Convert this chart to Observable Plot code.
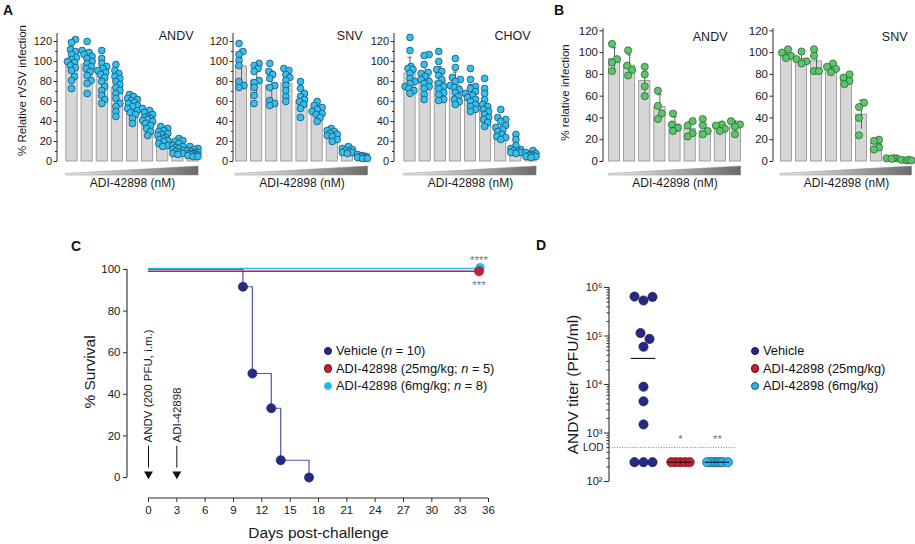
<!DOCTYPE html>
<html>
<head>
<meta charset="utf-8">
<script src="https://cdn.jsdelivr.net/npm/d3@7"></script>
<script src="https://cdn.jsdelivr.net/npm/@observablehq/plot@0.6"></script>
<style>
  html, body { margin: 0; padding: 0; background: #fff; }
  #fig { position: relative; width: 915px; height: 544px; overflow: hidden;
         font-family: "Liberation Sans", Arial, Helvetica, sans-serif; color: #111; }
  #fig svg { position: absolute; left: 0; top: 0; }
  .plabel { position: absolute; font-weight: bold; font-size: 14px; line-height: 14px; }
  .legend { position: absolute; font-size: 12.8px; line-height: 17.5px; white-space: nowrap; }
  .legend .row { display: flex; align-items: center; height: 17.5px; }
  .legend .sw { display: inline-block; width: 8.5px; height: 8.5px; border-radius: 50%;
                margin-right: 4px; box-sizing: border-box; }
</style>
</head>
<body>
<div id="fig"></div>
<script>
// ---------------- DATA ----------------
const doses = [1, 2, 3, 4, 5, 6, 7, 8, 9];   // increasing ADI-42898 concentration (nM)

// Panel A – rVSV, % relative infection
const aAndvMean = [101, 97, 88, 74, 56, 43, 24, 14, 9];
const aAndvPts = [
  [122, 119, 112, 110, 107, 104, 102, 100, 99, 96, 94, 91, 85, 81, 73],
  [120, 111, 109, 107, 105, 103, 100, 98, 95, 93, 90, 86, 81, 78, 68],
  [111, 103, 98, 95, 93, 91, 89, 87, 84, 80, 75, 71, 66, 62, 58],
  [97, 91, 88, 85, 83, 80, 77, 74, 71, 68, 63, 58, 55, 50, 45],
  [67, 65, 63, 62, 61, 59, 58, 56, 55, 53, 51, 49, 47, 43, 38],
  [53, 51, 49, 47, 45, 44, 43, 42, 41, 40, 38, 36, 33, 30, 26],
  [35, 33, 31, 30, 28, 27, 26, 24, 23, 22, 21, 20, 18, 16, 15],
  [23, 21, 20, 18, 16, 15, 14, 13, 12, 11, 10, 9, 8, 8, 7],
  [15, 13, 12, 11, 10, 9, 9, 8, 8, 7, 7, 6, 6, 5, 5]
];
const aSnvMean = [95, 81, 76, 78, 61, 50, 28, 10, 5];
const aSnvPts = [
  [118, 110, 107, 101, 96, 80, 76, 74],
  [98, 96, 93, 90, 81, 79, 74, 66, 58],
  [98, 90, 87, 83, 76, 74, 61, 58, 56],
  [93, 91, 87, 84, 81, 76, 71, 65, 60],
  [80, 73, 68, 65, 62, 60, 57, 53, 44],
  [60, 56, 54, 52, 50, 48, 47, 44, 40],
  [33, 31, 30, 28, 27, 26, 25, 22, 20],
  [15, 13, 12, 11, 10, 9, 9, 8],
  [7, 6, 5, 5, 4, 4, 3, 3]
];
const aChovMean = [88, 84, 80, 76, 65, 55, 33, 14, 7];
const aChovPts = [
  [124, 111, 95, 93, 92, 88, 83, 80, 78, 75, 73, 71, 68],
  [107, 106, 97, 89, 88, 85, 82, 80, 78, 75, 73, 67, 62],
  [110, 100, 92, 90, 86, 82, 78, 75, 73, 69, 67, 62, 61],
  [103, 94, 84, 82, 80, 76, 74, 72, 69, 65, 62, 60, 57],
  [93, 82, 75, 73, 70, 68, 66, 64, 62, 60, 57, 55, 52, 50],
  [83, 73, 68, 62, 57, 55, 52, 50, 47, 44, 42, 39, 35],
  [52, 44, 42, 40, 36, 34, 32, 30, 27, 25, 24, 22],
  [27, 22, 16, 13, 12, 11, 10, 9, 9, 8],
  [11, 9, 8, 7, 6, 6, 5, 5, 4]
];

// Panel B – authentic virus, % relative infection
const bAndvMean = [94, 88, 74, 50, 34, 30, 28, 30, 32];
const bAndvPts = [
  [108, 94, 91, 83], [102, 88, 84, 79], [87, 80, 69, 60], [65, 51, 44, 39],
  [44, 34, 31, 28], [37, 33, 26, 23], [39, 33, 28, 25], [34, 33, 30, 28], [37, 34, 32, 25]
];
const bSnvMean = [98, 94, 92, 86, 75, 43, 16, 3, 1];
const bSnvPts = [
  [103, 100, 97, 95], [101, 94, 92, 90], [103, 97, 83, 83], [90, 87, 85, 82],
  [80, 77, 74, 71], [54, 50, 40, 24], [20, 19, 13, 11], [3, 3, 3, 2.5], [1.5, 1, 1.5, 1]
];
const yTicksPct = [0, 20, 40, 60, 80, 100, 120];
const yMinorPct = [10, 30, 50, 70, 90, 110];

// Panel C – survival
const survDays = [0, 10, 11, 13, 14, 17];
const survVehicle = [100, 91.7, 50, 33.3, 8.3, 0];
const treatedDays = [0, 35];
const treated25 = [100, 100];
const treated6 = [100, 100];
const dayTicks = [0, 3, 6, 9, 12, 15, 18, 21, 24, 27, 30, 33, 36];
const survTicks = [0, 20, 40, 60, 80, 100];
const eventDays = [0, 3];
const eventLabels = ["ANDV (200 PFU, i.m.)", "ADI-42898"];
const legendC = ["Vehicle (<i>n</i> = 10)", "ADI-42898 (25mg/kg; <i>n</i> = 5)", "ADI-42898 (6mg/kg; <i>n</i> = 8)"];
const sigC = ["****", "***"];

// Panel D – ANDV titer (PFU/ml)
const titerVehicle = [650000, 540000, 640000, 115000, 87000, 60000, 9000, 4500, 1500, 250, 250, 250];
const titer25 = [250, 250, 250, 250, 250];
const titer6 = [250, 250, 250, 250, 250, 250, 250, 250];
const lod = 500;
const titerTicks = [1e2, 1e3, 1e4, 1e5, 1e6];
const legendD = ["Vehicle", "ADI-42898 (25mg/kg)", "ADI-42898 (6mg/kg)"];
const sigD = ["", "*", "**"];

// ---------------- STYLE ----------------
const FONT = '"Liberation Sans", Arial, Helvetica, sans-serif';
const W = 915, H = 544;
const NS = "http://www.w3.org/2000/svg";
const navy = "#262a86", red = "#c4202f", cyan = "#2bb6ee";
const fig = document.getElementById("fig");
const baseStyle = { background: "transparent", fontFamily: FONT, fontSize: "11px", color: "#1a1a1a" };

function place(svg) { fig.appendChild(svg); }

// deterministic beeswarm: x offsets (px) for y positions (px)
function swarm(py, minDist, step, maxOff = Infinity) {
  const n = py.length, off = new Array(n).fill(0), placed = [];
  const order = d3.range(n).sort((a, b) => py[a] - py[b]);
  for (const i of order) {
    let best = 0, bestD = -1;
    for (let k = 0; k < 400; k++) {
      const c = k === 0 ? 0 : (k % 2 ? 1 : -1) * Math.ceil(k / 2) * step;
      if (Math.abs(c) > maxOff) break;
      const dmin = placed.length ? d3.min(placed, p => Math.hypot(p[0] - c, p[1] - py[i])) : Infinity;
      if (dmin >= minDist) { best = c; break; }
      if (dmin > bestD) { bestD = dmin; best = c; }
    }
    off[i] = best;
    placed.push([best, py[i]]);
  }
  const mid = (d3.min(off) + d3.max(off)) / 2;
  return off.map(o => o - mid);
}

function lineEl(x1, y1, x2, y2, stroke, sw) {
  const l = document.createElementNS(NS, "line");
  l.setAttribute("x1", x1); l.setAttribute("x2", x2);
  l.setAttribute("y1", y1); l.setAttribute("y2", y2);
  l.setAttribute("stroke", stroke); l.setAttribute("stroke-width", sw);
  return l;
}
const yAxisLine = (v0, v1, sw = 1) => (index, scales, values, dims) =>
  lineEl(dims.marginLeft, scales.y(v0), dims.marginLeft, scales.y(v1), "#2a2a2a", sw);
const xAxisLine = (v0, v1, sw = 1) => (index, scales, values, dims) =>
  lineEl(scales.x(v0), dims.height - dims.marginBottom, scales.x(v1), dims.height - dims.marginBottom, "#2a2a2a", sw);

function gradientDefs(id) {
  return () => {
    const defs = document.createElementNS(NS, "defs");
    const g = document.createElementNS(NS, "linearGradient");
    g.setAttribute("id", id);
    g.setAttribute("x1", "0"); g.setAttribute("x2", "1"); g.setAttribute("y1", "0"); g.setAttribute("y2", "0");
    [["0", "#f0f0f0"], ["1", "#6a6a6a"]].forEach(([o, c]) => {
      const s = document.createElementNS(NS, "stop");
      s.setAttribute("offset", o); s.setAttribute("stop-color", c);
      g.appendChild(s);
    });
    defs.appendChild(g);
    return defs;
  };
}

// ---------------- BAR PANELS (A, B) ----------------
function barPanel(cfg) {
  const step = (cfg.lastPx - cfg.firstPx) / 8;
  const d0 = 1 - (cfg.firstPx - cfg.axisPx) / step;
  const frameRight = cfg.lastPx + step / 2;
  const frameTop = cfg.zeroPx - cfg.yTop * cfg.ppu;
  const frameMid = (frameTop + cfg.zeroPx) / 2;
  const hw = 0.37, cap = 0.14;
  const rows = [], dots = [];
  doses.forEach((d, i) => {
    const v = cfg.pts[i];
    const sd = d3.deviation(v) || 0;
    rows.push({ dose: d, mean: cfg.means[i], lo: cfg.means[i] - sd, hi: cfg.means[i] + sd });
    const off = swarm(v.map(x => x * cfg.ppu), cfg.minDist, 1, cfg.maxOff);
    v.forEach((val, j) => dots.push({ x: d + off[j] / step, y: val }));
  });
  const wedge = [
    { x: doses[0] - hw, y1: -14 / cfg.ppu, y2: -12.5 / cfg.ppu },
    { x: doses[doses.length - 1] + hw, y1: -14 / cfg.ppu, y2: -5 / cfg.ppu }
  ];
  const marks = [
    gradientDefs(cfg.id),
    Plot.areaY(wedge, { x: "x", y1: "y1", y2: "y2", fill: `url(#${cfg.id})`, stroke: "#8a8a8a", strokeWidth: 0.5 }),
    Plot.rectY(rows, { x1: d => d.dose - hw, x2: d => d.dose + hw, y1: 0, y2: "mean",
                       fill: "#d6d6d6", stroke: "#8e8e8e", strokeWidth: 0.8 }),
    Plot.ruleX(rows, { x: "dose", y1: "lo", y2: "hi", stroke: "#555", strokeWidth: 0.9 }),
    Plot.ruleY(rows, { y: "hi", x1: d => d.dose - cap, x2: d => d.dose + cap, stroke: "#555", strokeWidth: 0.9 }),
    Plot.dot(dots, { x: "x", y: "y", r: cfg.r, fill: cfg.fill, stroke: cfg.stroke, strokeWidth: 0.7 }),
    yAxisLine(0, cfg.yTop),
    Plot.axisY({ ticks: yTicksPct, tickSize: 3.5, tickPadding: 2, fontSize: cfg.tickFont, label: null, stroke: "#2a2a2a" }),
    Plot.text([cfg.virus], { text: d => d, frameAnchor: "top-right", textAnchor: "end", lineAnchor: "middle",
                             dx: cfg.virusRight - frameRight, dy: cfg.virusY - frameTop, fontSize: 12.5 }),
    Plot.text(["ADI-42898 (nM)"], { text: d => d, x: d3.mean(doses), frameAnchor: "bottom", lineAnchor: "middle",
                                    dy: 22, fontSize: 12 })
  ];
  if (cfg.minor) marks.push(Plot.axisY({ ticks: yMinorPct, tickSize: 2, tickFormat: () => "", label: null, stroke: "#2a2a2a" }));
  if (cfg.ylabel) marks.push(Plot.text([cfg.ylabel], { text: d => d, frameAnchor: "left", textAnchor: "middle",
      lineAnchor: "middle", rotate: -90, dx: cfg.ylabelX - cfg.axisPx, dy: cfg.ylabelY - frameMid, fontSize: 11.5 }));
  place(Plot.plot({
    width: W, height: H,
    marginLeft: cfg.axisPx, marginRight: W - frameRight, marginTop: frameTop, marginBottom: H - cfg.zeroPx,
    style: baseStyle,
    x: { domain: [d0, 9.5], axis: null },
    y: { domain: [0, cfg.yTop], axis: null },
    marks
  }));
}

const aDot = { fill: "#33c0ec", stroke: "#1b3c5c", r: 3.4, minDist: 5, maxOff: 5 };
const bDot = { fill: "#5cc56a", stroke: "#1f5a2a", r: 3.6, minDist: 6.5, maxOff: 5.5 };
const aGeo = { zeroPx: 161, ppu: 1.0, yTop: 128, virusY: 35, minor: true, tickFont: 11 };
const bGeo = { zeroPx: 161, ppu: 1.089, yTop: 122, virusY: 36, minor: false, tickFont: 11.5 };

barPanel({ ...aGeo, ...aDot, id: "gA1", axisPx: 57, firstPx: 71.5, lastPx: 192.5, means: aAndvMean, pts: aAndvPts,
  virus: "ANDV", virusRight: 193, ylabel: "% Relative rVSV infection", ylabelX: 22, ylabelY: 90 });
barPanel({ ...aGeo, ...aDot, id: "gA2", axisPx: 233, firstPx: 241, lastPx: 362, means: aSnvMean, pts: aSnvPts,
  virus: "SNV", virusRight: 362 });
barPanel({ ...aGeo, ...aDot, id: "gA3", axisPx: 394, firstPx: 409.5, lastPx: 530.5, means: aChovMean, pts: aChovPts,
  virus: "CHOV", virusRight: 530 });
barPanel({ ...bGeo, ...bDot, id: "gB1", axisPx: 603, firstPx: 614, lastPx: 735, means: bAndvMean, pts: bAndvPts,
  virus: "ANDV", virusRight: 727, ylabel: "% relative infection", ylabelX: 565, ylabelY: 92 });
barPanel({ ...bGeo, ...bDot, id: "gB2", axisPx: 773, firstPx: 786, lastPx: 906, means: bSnvMean, pts: bSnvPts,
  virus: "SNV", virusRight: 907 });

// ---------------- PANEL C ----------------
{
  const veh = survDays.map((d, i) => ({ day: d, s: survVehicle[i] }));
  const t25 = treatedDays.map((d, i) => ({ day: d, s: treated25[i] }));
  const t6 = treatedDays.map((d, i) => ({ day: d, s: treated6[i] }));
  const events = eventDays.map((d, i) => ({ day: d, label: eventLabels[i] }));
  const lastDay = d3.max(treatedDays);
  place(Plot.plot({
    width: W, height: H,
    marginLeft: 127, marginRight: W - 488, marginTop: 269, marginBottom: H - 498,
    style: { ...baseStyle, fontSize: "11.5px" },
    x: { domain: [0, 36], range: [148, 488], axis: null },
    y: { domain: [0, 100], range: [477, 269], axis: null },
    marks: [
      yAxisLine(0, 100, 1.1),
      xAxisLine(0, 36, 1.1),
      Plot.axisY({ ticks: survTicks, tickSize: 4, tickPadding: 3, fontSize: 11.5, label: null, stroke: "#2a2a2a" }),
      Plot.axisX({ ticks: dayTicks, tickSize: 4, tickPadding: 3, fontSize: 11.5, label: null, stroke: "#2a2a2a" }),
      Plot.text(["Days post-challenge"], { text: d => d, x: 18, frameAnchor: "bottom", lineAnchor: "middle", dy: 35, fontSize: 15.5 }),
      Plot.text(["% Survival"], { text: d => d, frameAnchor: "left", textAnchor: "middle", lineAnchor: "middle",
                                  rotate: -90, dx: -37, dy: -12, fontSize: 15.5 }),
      Plot.line(veh, { x: "day", y: "s", curve: "step-after", stroke: "#4d54b8", strokeWidth: 1.2 }),
      Plot.line(t25, { x: "day", y: "s", stroke: red, strokeWidth: 1.6, dy: 1.8 }),
      Plot.line(t6, { x: "day", y: "s", stroke: cyan, strokeWidth: 1.6, dy: -1 }),
      Plot.dot(veh.filter((d, i) => i > 0), { x: "day", y: "s", r: 4.6, fill: navy, stroke: "#161a55", strokeWidth: 0.6 }),
      Plot.dot(t6.filter(d => d.day === lastDay), { x: "day", y: "s", r: 4.6, fill: cyan, dx: 1, dy: -2 }),
      Plot.dot(t25.filter(d => d.day === lastDay), { x: "day", y: "s", r: 4.6, fill: red, stroke: "#7a1019", strokeWidth: 0.5, dy: 1.8 }),
      Plot.text([sigC[0]], { text: d => d, x: lastDay, y: 100, dy: -9, fontSize: 11.5, fill: "#777", letterSpacing: 0.5 }),
      Plot.text([sigC[1]], { text: d => d, x: lastDay, y: 100, dy: 16, fontSize: 11.5, fill: "#777", letterSpacing: 0.5 }),
      Plot.ruleX(events, { x: "day", y1: 4.5, y2: 15, stroke: "#111", strokeWidth: 1 }),
      Plot.dot(events, { x: "day", y: 0, dy: -3.5, symbol: "triangle", rotate: 180, r: 3.3, fill: "#111" }),
      Plot.text(events, { x: "day", y: 0, text: "label", rotate: -90, textAnchor: "start", lineAnchor: "middle",
                          dy: -35, fontSize: 11.5 })
    ]
  }));
}

// ---------------- PANEL D ----------------
{
  const groups = [titerVehicle, titer25, titer6];
  const fills = [navy, red, cyan];
  const strokes = ["#15184f", "#5e0d16", "#1b4d6e"];
  const gaps = [9, 4.6, 2.6];
  const decadePx = 48.5, groupStep = 37;
  const pts = [], meds = [];
  groups.forEach((g, gi) => {
    const off = swarm(g.map(v => Math.log10(v) * decadePx), gaps[gi], gi === 0 ? 3 : gaps[gi]);
    g.forEach((v, j) => pts.push({ g: gi, x: gi + off[j] / groupStep, v }));
    meds.push({ g: gi, m: d3.median(g), sig: sigD[gi] });
  });
  const sup = { 2: "\u00B2", 3: "\u00B3", 4: "\u2074", 5: "\u2075", 6: "\u2076" };
  const minor = [];
  for (let e = 2; e < 6; e++) for (let k = 2; k <= 9; k++) minor.push(k * 10 ** e);
  place(Plot.plot({
    width: W, height: H,
    marginLeft: 609, marginRight: W - 735, marginTop: 287, marginBottom: H - 481,
    style: baseStyle,
    x: { domain: [0, 2], range: [643, 717], axis: null },
    y: { type: "log", domain: [100, 1e6], axis: null },
    marks: [
      yAxisLine(100, 1e6, 1.1),
      Plot.axisY({ ticks: titerTicks, tickSize: 5, tickPadding: 2, fontSize: 11, label: null, stroke: "#2a2a2a",
                   tickFormat: d => "10" + sup[Math.round(Math.log10(d))] }),
      Plot.axisY({ ticks: minor, tickSize: 2.5, tickFormat: () => "", label: null, stroke: "#2a2a2a" }),
      Plot.ruleY([lod], { stroke: "#666", strokeWidth: 0.9, strokeDasharray: "1,1.6" }),
      Plot.text(["LOD"], { text: d => d, y: lod, frameAnchor: "left", textAnchor: "end", lineAnchor: "middle", dx: -6, fontSize: 10 }),
      Plot.text(["ANDV titer (PFU/ml)"], { text: d => d, frameAnchor: "left", textAnchor: "middle", lineAnchor: "middle",
                                           rotate: -90, dx: -36, fontSize: 15.5 }),
      Plot.dot(pts, { x: "x", y: "v", r: 4.6, fill: d => fills[d.g], stroke: d => strokes[d.g], strokeWidth: 0.7 }),
      Plot.ruleY(meds, { y: "m", x1: d => d.g - 0.33, x2: d => d.g + 0.33, stroke: "#111", strokeWidth: 1.1 }),
      Plot.text(meds, { x: "g", y: lod, text: "sig", dy: -8, fontSize: 11.5, fill: "#777", letterSpacing: 0.5 })
    ]
  }));
}

// ---------------- HTML labels & legends ----------------
function addLabel(t, x, y) {
  const d = document.createElement("div");
  d.className = "plabel"; d.textContent = t;
  d.style.left = x + "px"; d.style.top = y + "px";
  fig.appendChild(d);
}
addLabel("A", 3, 3); addLabel("B", 554, 3); addLabel("C", 71, 239); addLabel("D", 536, 238);

function addLegend(items, colors, borders, x, y) {
  const box = document.createElement("div");
  box.className = "legend";
  box.style.left = x + "px"; box.style.top = y + "px";
  items.forEach((html, i) => {
    const row = document.createElement("div");
    row.className = "row";
    const sw = document.createElement("span");
    sw.className = "sw"; sw.style.background = colors[i]; sw.style.border = "0.7px solid " + borders[i];
    const tx = document.createElement("span");
    tx.innerHTML = html;
    row.appendChild(sw); row.appendChild(tx);
    box.appendChild(row);
  });
  fig.appendChild(box);
}
addLegend(legendC, [navy, red, cyan], ["#161a55", "#7a1019", cyan], 323.5, 342);
addLegend(legendD, [navy, red, cyan], ["#15184f", "#5e0d16", "#1b4d6e"], 750.5, 342);
</script>
</body>
</html>
